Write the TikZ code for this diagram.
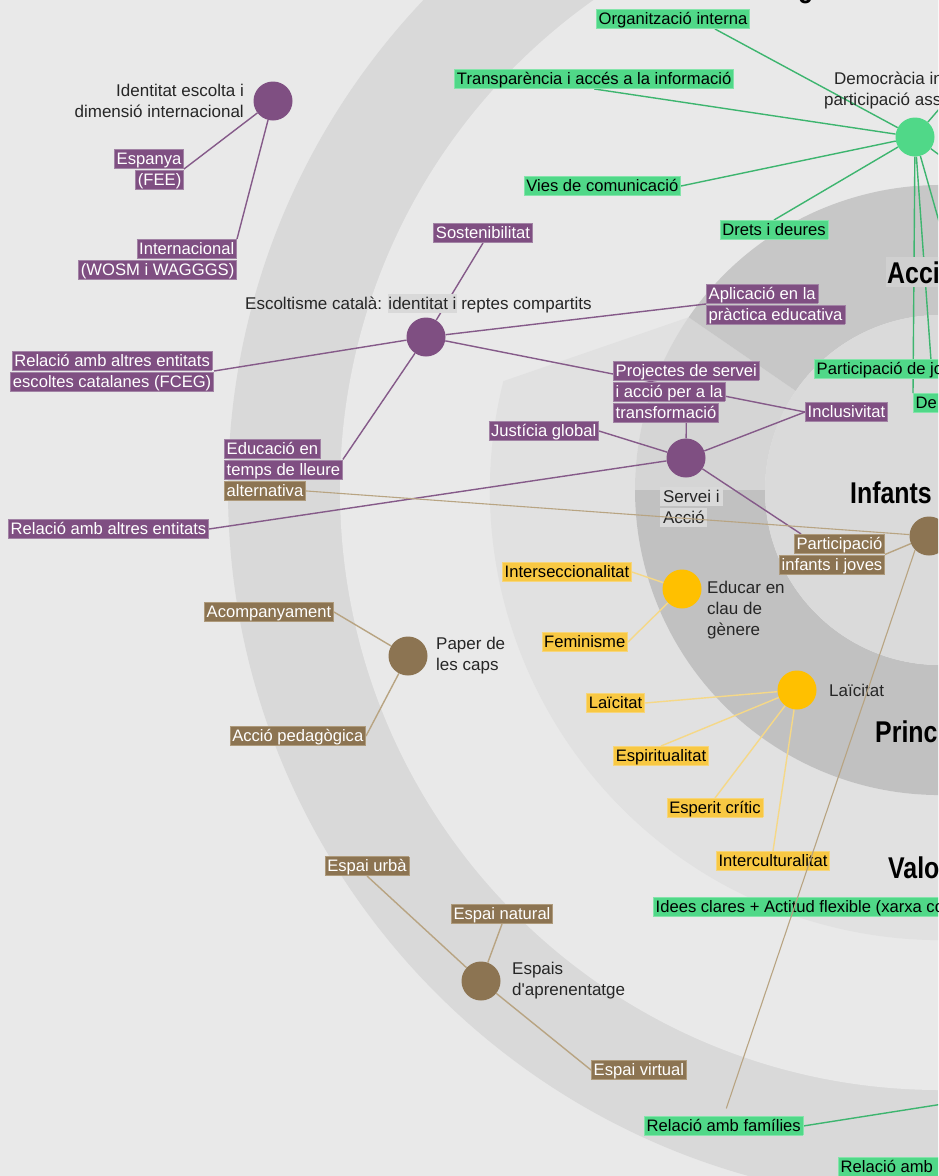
\documentclass[tikz,border=0pt]{standalone}
\usepackage{fontspec}
\setmainfont{Liberation Sans}
\usepackage{graphicx}
\usepackage{xcolor}

\definecolor{purp}{HTML}{7F4F82}
\definecolor{purpedge}{HTML}{A283A5}
\definecolor{purpline}{HTML}{855A89}
\definecolor{brn}{HTML}{8C7452}
\definecolor{brnedge}{HTML}{AE9A7B}
\definecolor{brnline}{HTML}{B8A482}
\definecolor{yel}{HTML}{FFC000}
\definecolor{yelbox}{HTML}{F8C843}
\definecolor{yeledge}{HTML}{F6D57A}
\definecolor{yelline}{HTML}{F5D887}
\definecolor{grn}{HTML}{50D888}
\definecolor{grnedge}{HTML}{84E4AA}
\definecolor{grnline}{HTML}{3DB56F}
\definecolor{bgA}{HTML}{E9E9E9}
\definecolor{ringOut}{HTML}{D9D9D9}
\definecolor{ringMid}{HTML}{E1E1E1}
\definecolor{secAccio}{HTML}{C7C7C7}
\definecolor{secServei}{HTML}{D5D5D5}
\definecolor{secPrinc}{HTML}{C1C1C1}
\definecolor{core}{HTML}{DADADA}
\definecolor{lblgray}{HTML}{D9D9D9}
\definecolor{titlebox}{HTML}{D0D0D0}
\definecolor{ink}{HTML}{262626}

\setlength{\fboxsep}{0pt}
\setlength{\fboxrule}{0.5pt}
% one highlighted line of a label
\newcommand{\hl}[3]{\fcolorbox{#1}{#2}{\hspace*{2pt}\rule[-3.5pt]{0pt}{18.5pt}#3\hspace*{2pt}}}
\newcommand{\hlp}[1]{\hl{purpedge}{purp}{\color{white}#1}}
\newcommand{\hlb}[1]{\hl{brnedge}{brn}{\color{white}#1}}
\newcommand{\hlg}[1]{\hl{grnedge}{grn}{#1}}
\newcommand{\hly}[1]{\hl{yeledge}{yelbox}{#1}}
\newcommand{\hlgray}[1]{\colorbox{lblgray}{\rule[-3.5pt]{0pt}{18.5pt}#1}}

\pgfdeclarelayer{back}
\pgfdeclarelayer{edges}
\pgfsetlayers{back,edges,main}

\begin{document}
\begin{tikzpicture}[x=1pt, y=-1pt,
    hub/.style={circle, minimum size=39pt, inner sep=0pt},
    tagbox/.style={inner sep=0pt, text=black, font=\fontsize{16.6}{21}\selectfont},
    notetext/.style={inner sep=0pt, text=ink, font=\fontsize{17}{21}\selectfont},
    ringtitle/.style={inner sep=0pt, text=black, font=\fontsize{30}{30}\selectfont\bfseries},
    pline/.style={draw=purpline, line width=1.4pt},
    bline/.style={draw=brnline, line width=1.4pt},
    yline/.style={draw=yelline, line width=1.4pt},
    gline/.style={draw=grnline, line width=1.4pt}]

    \useasboundingbox (0,0) rectangle (938,1176);
    \clip (0,0) rectangle (938,1176);

    % rings
    \begin{pgfonlayer}{back}
        \clip (0,0) rectangle (938,1176);
        \fill[bgA] (0,0) rectangle (938,1176);
        \begin{scope}[shift={(940,490)}]
            \fill[ringOut] (0,0) circle[radius=712];
            \fill[bgA] (0,0) circle[radius=600];
            \fill[ringMid] (194:450) arc[start angle=194, end angle=-20, radius=450]
                -- (-20:305) arc[start angle=-20, end angle=214.5, radius=305] -- cycle;
            \fill[secServei] (180:305) arc[start angle=180, end angle=214.5, radius=305]
                -- (214.5:175) arc[start angle=214.5, end angle=180, radius=175] -- cycle;
            \fill[secAccio] (214.5:305) arc[start angle=214.5, end angle=300, radius=305]
                -- (300:175) arc[start angle=300, end angle=214.5, radius=175] -- cycle;
            \fill[secPrinc] (-60:305) arc[start angle=-60, end angle=180, radius=305]
                -- (180:175) arc[start angle=180, end angle=-60, radius=175] -- cycle;
            \fill[core] (0,0) circle[radius=175];
        \end{scope}
    \end{pgfonlayer}

    % ring titles
    \node[ringtitle, anchor=base west] (toptitle) at (798,-3) {\scalebox{.83}[1]{g}};
    \node[ringtitle, anchor=base west, fill=titlebox, inner xsep=1pt, inner ysep=4pt] (acciotitle) at (886,283) {\scalebox{.83}[1]{Acci}};
    \node[ringtitle, anchor=base west] (infantstitle) at (850,503) {\scalebox{.83}[1]{Infants}};
    \node[ringtitle, anchor=base west] (princtitle) at (875,742) {\scalebox{.83}[1]{Princ}};
    \node[ringtitle, anchor=base west] (valotitle) at (888,878) {\scalebox{.83}[1]{Valo}};

    % hubs
    \node[hub, fill=purp] (ident) at (273,101) {};
    \node[hub, fill=purp] (escolt) at (426,337) {};
    \node[hub, fill=purp] (servei) at (686,458) {};
    \node[hub, fill=brn] (infants) at (929,536) {};
    \node[hub, fill=brn] (paper) at (408,656) {};
    \node[hub, fill=brn] (espais) at (481,981) {};
    \node[hub, fill=yel] (genere) at (682,589) {};
    \node[hub, fill=yel] (laic) at (797,690) {};
    \node[hub, fill=grn] (dem) at (915,137) {};

    % hub captions
    \node[notetext, anchor=east, align=right] (identtxt) at (244,101) {Identitat escolta i\\dimensió internacional};
    \node[notetext, anchor=base west] (escolttxt) at (245,309) {Escoltisme català: \hlgray{identitat i} reptes compartits};
    \node[notetext, anchor=north west, align=left] (serveitxt) at (660,487) {\hlgray{\,Servei i\,}\\\hlgray{\,Acció\,}};
    \node[notetext, anchor=west, align=left] (papertxt) at (436,656) {Paper de\\les caps};
    \node[notetext, anchor=west, align=left] (espaistxt) at (512,981) {Espais\\d\textquotesingle aprenentatge};
    \node[notetext, anchor=north west, align=left] (generetxt) at (707,581) {Educar en\\clau de\\gènere};
    \node[notetext, anchor=west] (laictxt) at (829,690) {Laïcitat};
    \node[notetext, anchor=north west, align=left] (demtxt) at (824,72) {\hspace*{10pt}Democràcia in\\participació ass};

    % purple labels
    \node[tagbox, anchor=east, align=right] (espanya) at (184,169) {\hlp{Espanya}\\\hlp{(FEE)}};
    \node[tagbox, anchor=north east, align=right] (intl) at (237,239) {\hlp{Internacional}\\\hlp{(WOSM i WAGGGS)}};
    \node[tagbox, anchor=south] (sost) at (483,243) {\hlp{Sostenibilitat}};
    \node[tagbox, anchor=west, align=left] (aplic) at (706,304) {\hlp{Aplicació en la}\\\hlp{pràctica educativa}};
    \node[tagbox, anchor=east, align=center] (fceg) at (214,371) {\hlp{Relació amb altres entitats}\\\hlp{escoltes catalanes (FCEG)}};
    \node[tagbox, anchor=north west, align=left] (lleure) at (224,439) {\hlp{Educació en}\\\hlp{temps de lleure}};
    \node[tagbox, anchor=north west, align=left] (proj) at (613,361) {\hlp{Projectes de servei}\\\hlp{i acció per a la}\\\hlp{transformació}};
    \node[tagbox, anchor=west] (incl) at (805,412) {\hlp{Inclusivitat}};
    \node[tagbox, anchor=east] (justg) at (599,431) {\hlp{Justícia global}};
    \node[tagbox, anchor=west] (altres) at (8,529) {\hlp{Relació amb altres entitats}};

    % brown labels
    \node[tagbox, anchor=north west] (altern) at (224,481) {\hlb{alternativa}};
    \node[tagbox, anchor=north east, align=right] (partij) at (885,534) {\hlb{Participació}\\\hlb{infants i joves}};
    \node[tagbox, anchor=east] (acomp) at (334,612) {\hlb{Acompanyament}};
    \node[tagbox, anchor=east] (accped) at (366,736) {\hlb{Acció pedagògica}};
    \node[tagbox, anchor=south] (urba) at (367,876) {\hlb{Espai urbà}};
    \node[tagbox, anchor=south] (natural) at (502,924) {\hlb{Espai natural}};
    \node[tagbox, anchor=west] (virtual) at (591,1070) {\hlb{Espai virtual}};

    % yellow labels
    \node[tagbox, anchor=east] (inters) at (632,572) {\hly{Interseccionalitat}};
    \node[tagbox, anchor=east] (femin) at (628,642) {\hly{Feminisme}};
    \node[tagbox, anchor=east] (laicb) at (645,703) {\hly{Laïcitat}};
    \node[tagbox, anchor=north] (espir) at (661,746) {\hly{Espiritualitat}};
    \node[tagbox, anchor=north] (esper) at (715,798) {\hly{Esperit crític}};
    \node[tagbox, anchor=north] (intercult) at (773,851) {\hly{Interculturalitat}};

    % green labels
    \node[tagbox, anchor=south] (orgint) at (673,29) {\hlg{Organització interna}};
    \node[tagbox, anchor=east] (transp) at (734,79) {\hlg{Transparència i accés a la informació}};
    \node[tagbox, anchor=east] (vies) at (681,186) {\hlg{Vies de comunicació}};
    \node[tagbox, anchor=north] (drets) at (774,220) {\hlg{Drets i deures}};
    \node[tagbox, anchor=north west] (partjo) at (814,359) {\hlg{Participació de jo}};
    \node[tagbox, anchor=north west] (deure) at (913,393) {\hlg{De}};
    \node[tagbox, anchor=north west] (idees) at (653,897) {\hlg{Idees clares + Actitud flexible (xarxa co}};
    \node[tagbox, anchor=north west] (famil) at (644,1116) {\hlg{Relació amb famílies}};
    \node[tagbox, anchor=north west] (relamb) at (838,1157) {\hlg{Relació amb\ }};

    % ends outside the frame
    \coordinate (offa) at (959,86);
    \coordinate (offb) at (980,185);
    \coordinate (offc) at (969,327);
    \coordinate (offd) at (1000,1095);

    % connectors
    \begin{pgfonlayer}{edges}
        \clip (0,0) rectangle (938,1176);
        \draw[pline] (espanya.east) -- (ident);
        \draw[pline] (intl.north east) -- (ident);
        \draw[pline] (sost.south) -- (escolt);
        \draw[pline] (aplic.west) -- (escolt);
        \draw[pline] (fceg.east) -- (escolt);
        \draw[pline] (lleure.east) -- (escolt);
        \draw[pline] (escolt) -- (incl.west);
        \draw[pline] (proj.south) -- (servei);
        \draw[pline] (justg.east) -- (servei);
        \draw[pline] (incl.west) -- (servei);
        \draw[pline] (servei) -- (partij);
        \draw[pline] (altres.east) -- (servei);

        \draw[bline] (partij.east) -- (infants);
        \draw[bline] (acomp.east) -- (paper);
        \draw[bline] (accped.east) -- (paper);
        \draw[bline] (urba.south) -- (espais);
        \draw[bline] (natural.south) -- (espais);
        \draw[bline] (virtual.west) -- (espais);

        \draw[yline] (inters.east) -- (genere);
        \draw[yline] (femin.east) -- (genere);
        \draw[yline] (laicb.east) -- (laic);
        \draw[yline] (espir.north) -- (laic);
        \draw[yline] (esper.north) -- (laic);
        \draw[yline] (intercult.north) -- (laic);

        \draw[gline] ([xshift=42pt]orgint.south) -- (dem);
        \draw[gline] (transp.south) -- (dem);
        \draw[gline] (vies.east) -- (dem);
        \draw[gline] (drets.north) -- (dem);
        \draw[gline] (dem) -- ([xshift=51pt]partjo.north);
        \draw[gline] (dem) -- (deure.north west);
        \draw[gline] (dem) -- (offa);
        \draw[gline] (dem) -- (offb);
        \draw[gline] (dem) -- (offc);
        \draw[gline] (famil.east) -- (offd);
    \end{pgfonlayer}

    % long brown links drawn over the labels
    \draw[bline, line width=1.1pt] (altern.east) -- (infants);
    \draw[bline, line width=1.1pt, shorten >=8pt] (infants.225) -- (famil.north);
\end{tikzpicture}
\end{document}
